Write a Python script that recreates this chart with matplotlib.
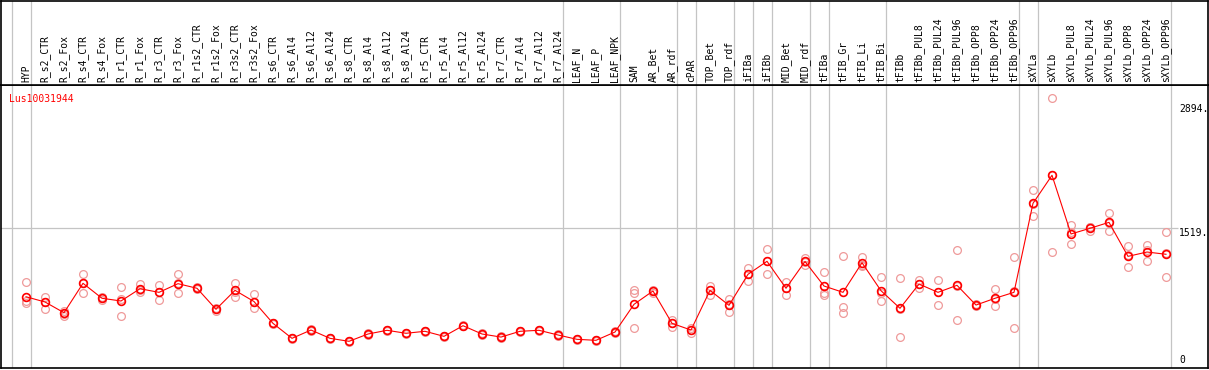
import matplotlib
matplotlib.use("Agg")
import matplotlib.pyplot as plt

samples = [
    "HYP", "R_s2_CTR", "R_s2_Fox", "R_s4_CTR", "R_s4_Fox", "R_r1_CTR", "R_r1_Fox",
    "R_r3_CTR", "R_r3_Fox", "R_r1s2_CTR", "R_r1s2_Fox", "R_r3s2_CTR", "R_r3s2_Fox",
    "R_s6_CTR", "R_s6_Al4", "R_s6_Al12", "R_s6_Al24", "R_s8_CTR", "R_s8_Al4",
    "R_s8_Al12", "R_s8_Al24", "R_r5_CTR", "R_r5_Al4", "R_r5_Al12", "R_r5_Al24",
    "R_r7_CTR", "R_r7_Al4", "R_r7_Al12", "R_r7_Al24", "LEAF_N", "LEAF_P", "LEAF_NPK",
    "SAM", "AR_Bet", "AR_rdf", "cPAR", "TOP_Bet", "TOP_rdf", "iFIBa", "iFIBb",
    "MID_Bet", "MID_rdf", "tFIBa", "tFIB_Gr", "tFIB_Li", "tFIB_Bi", "tFIBb",
    "tFIBb_PUL8", "tFIBb_PUL24", "tFIBb_PUL96", "tFIBb_OPP8", "tFIBb_OPP24",
    "tFIBb_OPP96", "sXYLa", "sXYLb", "sXYLb_PUL8", "sXYLb_PUL24", "sXYLb_PUL96",
    "sXYLb_OPP8", "sXYLb_OPP24", "sXYLb_OPP96",
]

# mean expression per sample
means = [
    757, 699, 580, 906, 740, 710, 846, 806, 902, 851, 618, 828, 704,
    462, 296, 388, 296, 263, 344, 385, 352, 374, 318, 436, 344, 310, 374, 385, 333,
    285, 274, 366, 673, 821, 462, 388, 828, 662, 1006, 1150, 851, 1148,
    876, 806, 1134, 824, 629, 898, 806, 884, 665, 740, 806,
    1793, 2104, 1453, 1516, 1582, 1205, 1253, 1228,
]

# three replicates per sample
rep1 = [
    917, 757, 599, 1006, 754, 862, 898, 884, 1006, 862, 632, 913, 787,
    470, 304, 396, 303, 270, 352, 392, 360, 381, 326, 444, 351, 318, 381, 392, 340,
    292, 281, 373, 831, 837, 499, 416, 876, 729, 1079, 1286, 920, 1183,
    1028, 1205, 1201, 973, 961, 943, 943, 1275, 682, 839, 1194,
    1937, 2957, 1549, 1534, 1686, 1316, 1331, 1472,
]
rep2 = [
    713, 699, 566, 909, 740, 727, 832, 813, 906, 851, 618, 813, 702,
    462, 296, 388, 296, 263, 344, 385, 352, 374, 318, 436, 344, 310, 374, 385, 333,
    285, 274, 366, 804, 821, 466, 388, 832, 676, 1006, 1153, 854, 1146,
    802, 646, 1109, 795, 618, 898, 809, 880, 665, 729, 817,
    1790, 2104, 1472, 1525, 1578, 1216, 1272, 1239,
]
rep3 = [
    684, 624, 543, 802, 721, 540, 806, 721, 795, 839, 602, 757, 629,
    455, 289, 381, 290, 257, 337, 378, 345, 367, 311, 429, 337, 303, 367, 378, 326,
    278, 267, 359, 407, 804, 425, 358, 776, 584, 931, 1006, 780, 1109,
    780, 580, 1098, 706, 307, 851, 662, 496, 649, 651, 407,
    1652, 1250, 1338, 1486, 1483, 1083, 1157, 973,
]

# group separators sit just right of these sample indices
group_ends = [-1, 0, 28, 31, 34, 35, 37, 38, 39, 41, 42, 45, 52, 53, 60]

gene = "Lus10031944"
ref_value = 1519
top_value = 2894

W, H = 1209, 370
fig = plt.figure(figsize=(W / 100, H / 100), dpi=100)
mono = "DejaVu Sans Mono"

ax = fig.add_axes([1 / W, (H - 368) / H, 1207 / W, 283 / H])
hdr = fig.add_axes([1 / W, (H - 85) / H, 1207 / W, 84 / H], sharex=ax)

xs = list(range(len(samples)))
ax.set_xlim(-25 / 19, 1182 / 19)
ax.set_ylim(-33, 3105)

for a in (ax, hdr):
    for s in a.spines.values():
        s.set_color("black")
        s.set_linewidth(1.2)
    a.tick_params(left=False, bottom=False, labelleft=False, labelbottom=False)
    for g in group_ends:
        a.axvline(g + 0.24, color="#c4c4c4", lw=0.9, zorder=1)

ax.hlines(ref_value, -2, 60.63, color="#c4c4c4", lw=0.9, zorder=1)

for reps in (rep1, rep2, rep3):
    ax.plot(xs, reps, ls="none", marker="o", ms=5.6, mfc="none",
            mec="#ef9a9a", mew=0.9, zorder=2)
ax.plot(xs, means, color="red", lw=0.8, marker="o", ms=5.6, mfc="none",
        mec="red", mew=1.2, zorder=3)

for x, name in zip(xs, samples):
    hdr.text(x, 0.03, name, rotation=90, ha="center", va="bottom",
             family=mono, fontsize=7, color="black")

ax.text(8 / 1207, 1 - 9 / 283, gene, transform=ax.transAxes, ha="left",
        va="top", family=mono, fontsize=7, color="red")

lx = (1179 - 26) / 19
ax.text(lx, top_value, f"{top_value}.", ha="left", va="top", family=mono, fontsize=7)
ax.text(lx, ref_value, f"{ref_value}.", ha="left", va="top", family=mono, fontsize=7)
ax.text(lx, 0, "0", ha="left", va="bottom", family=mono, fontsize=7)

fig.savefig("out.png", dpi=100)
